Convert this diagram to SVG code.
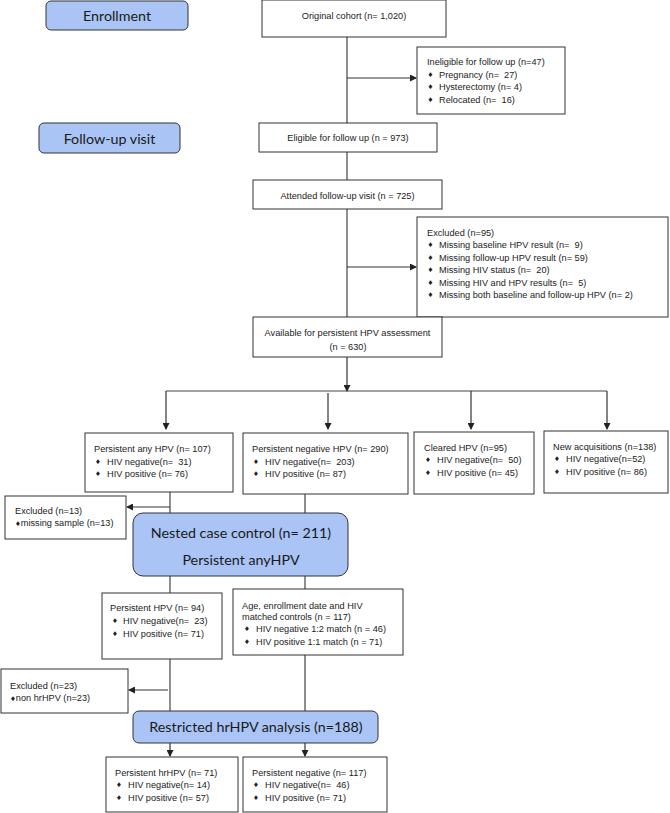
<svg xmlns="http://www.w3.org/2000/svg" width="670" height="813" viewBox="0 0 670 813" xml:space="preserve">
<style>
text{white-space:pre}
.box{fill:#fff;stroke:#333;stroke-width:1}
.hb{fill:#a9c4f5;stroke:#333;stroke-width:1}
.t{font-family:"Liberation Sans",Arial,sans-serif;font-size:9.2px;fill:#222}
.c{text-anchor:middle}
.b{font-family:"DejaVu Sans",sans-serif;font-size:6.5px;fill:#222}
.h{font-family:Lato,"Open Sans",sans-serif;font-size:14.3px;fill:#1a1a1a;text-anchor:middle}
.ln{fill:none;stroke:#444;stroke-width:1.2}
.ar{fill:none;stroke:#333;stroke-width:1.2;marker-end:url(#ah)}
</style>
<defs>
<marker id="ah" markerWidth="7" markerHeight="7" refX="6" refY="3.5" orient="auto" markerUnits="userSpaceOnUse">
<path d="M0,0 L7,3.5 L0,7 Z" fill="#222"/>
</marker>
</defs>
<g id="connectors">
<line class="ln" x1="347" y1="37" x2="347" y2="123"/>
<line class="ar" x1="347" y1="78" x2="416" y2="78"/>
<line class="ln" x1="347" y1="152" x2="347" y2="180"/>
<line class="ln" x1="347" y1="209" x2="347" y2="317"/>
<line class="ar" x1="347" y1="267" x2="416" y2="267"/>
<line class="ar" x1="347" y1="357" x2="347" y2="391"/>
<line class="ln" x1="166" y1="391" x2="607" y2="391"/>
<line class="ar" x1="166" y1="391" x2="166" y2="429"/>
<line class="ar" x1="328" y1="393" x2="328" y2="429"/>
<line class="ar" x1="471" y1="391" x2="471" y2="429"/>
<line class="ar" x1="607" y1="391" x2="607" y2="429"/>
<line class="ln" x1="170" y1="492" x2="170" y2="513"/>
<line class="ar" x1="170" y1="507" x2="127" y2="507"/>
<line class="ln" x1="305" y1="494" x2="305" y2="513"/>
<line class="ln" x1="170" y1="576" x2="170" y2="593"/>
<line class="ln" x1="305" y1="576" x2="305" y2="589"/>
<line class="ln" x1="170" y1="659" x2="170" y2="711"/>
<line class="ar" x1="168" y1="690" x2="129" y2="690"/>
<line class="ln" x1="305" y1="655" x2="305" y2="711"/>
<line class="ar" x1="170" y1="743" x2="170" y2="756"/>
<line class="ar" x1="305" y1="743" x2="305" y2="756"/>
</g>
<g id="enrollment">
<rect class="hb" x="46" y="1" width="142" height="29" rx="5"/>
<text class="h" x="117" y="20.5">Enrollment</text>
</g>
<g id="followup-visit">
<rect class="hb" x="39" y="123" width="141" height="30" rx="5"/>
<text class="h" x="109.5" y="143.5">Follow-up visit</text>
</g>
<g id="original-cohort">
<rect class="box" x="262" y="0" width="184" height="37"/>
<text class="t c" x="354" y="18.5">Original cohort (n= 1,020)</text>
</g>
<g id="ineligible">
<rect class="box" x="417" y="47" width="148" height="67"/>
<text class="t" x="427" y="65">Ineligible for follow up (n=47)</text>
<text class="b" x="427.5" y="76.5">♦</text><text class="t" x="439" y="77.5">Pregnancy (n=  27)</text>
<text class="b" x="427.5" y="89">♦</text><text class="t" x="439" y="90">Hysterectomy (n= 4)</text>
<text class="b" x="427.5" y="101.5">♦</text><text class="t" x="439" y="102.5">Relocated (n=  16)</text>
</g>
<g id="eligible">
<rect class="box" x="259" y="123" width="178" height="29"/>
<text class="t c" x="348" y="140.5">Eligible for follow up (n = 973)</text>
</g>
<g id="attended">
<rect class="box" x="253" y="180" width="189" height="29"/>
<text class="t c" x="347.5" y="198.5">Attended follow-up visit (n = 725)</text>
</g>
<g id="excluded-95">
<rect class="box" x="417" y="217" width="251" height="100"/>
<text class="t" x="427" y="235.5">Excluded (n=95)</text>
<text class="b" x="427.5" y="247">♦</text><text class="t" x="439" y="248">Missing baseline HPV result (n=  9)</text>
<text class="b" x="427.5" y="259.5">♦</text><text class="t" x="439" y="260.5">Missing follow-up HPV result (n= 59)</text>
<text class="b" x="427.5" y="272">♦</text><text class="t" x="439" y="273">Missing HIV status (n=  20)</text>
<text class="b" x="427.5" y="284.5">♦</text><text class="t" x="439" y="285.5">Missing HIV and HPV results (n=  5)</text>
<text class="b" x="427.5" y="297">♦</text><text class="t" x="439" y="298">Missing both baseline and follow-up HPV (n= 2)</text>
</g>
<g id="available">
<rect class="box" x="253" y="317" width="189" height="40"/>
<text class="t c" x="347.5" y="335.5">Available for persistent HPV assessment</text>
<text class="t c" x="348" y="349.5">(n = 630)</text>
</g>
<g id="persistent-any">
<rect class="box" x="85" y="433" width="148" height="59"/>
<text class="t" x="94" y="451.5">Persistent any HPV (n= 107)</text>
<text class="b" x="95" y="463.5">♦</text><text class="t" x="107" y="464.5">HIV negative(n=  31)</text>
<text class="b" x="95" y="475.5">♦</text><text class="t" x="107" y="476.5">HIV positive (n= 76)</text>
</g>
<g id="persistent-negative">
<rect class="box" x="243" y="433" width="165" height="61"/>
<text class="t" x="252" y="451.5">Persistent negative HPV (n= 290)</text>
<text class="b" x="253" y="463.5">♦</text><text class="t" x="265" y="464.5">HIV negative(n=  203)</text>
<text class="b" x="253" y="475.5">♦</text><text class="t" x="265" y="476.5">HIV positive (n= 87)</text>
</g>
<g id="cleared">
<rect class="box" x="414" y="432" width="120" height="62"/>
<text class="t" x="424" y="450.5">Cleared HPV (n=95)</text>
<text class="b" x="425" y="461.5">♦</text><text class="t" x="437" y="462.5">HIV negative(n=  50)</text>
<text class="b" x="425" y="474.5">♦</text><text class="t" x="437" y="475.5">HIV positive (n= 45)</text>
</g>
<g id="new-acquisitions">
<rect class="box" x="544" y="431" width="124" height="62"/>
<text class="t" x="553" y="449.5">New acquisitions (n=138)</text>
<text class="b" x="554" y="460.5">♦</text><text class="t" x="566" y="461.5">HIV negative(n=52)</text>
<text class="b" x="554" y="473.5">♦</text><text class="t" x="566" y="474.5">HIV positive (n= 86)</text>
</g>
<g id="excluded-13">
<rect class="box" x="5" y="496" width="121" height="43"/>
<text class="t" x="15" y="513.5">Excluded (n=13)</text>
<text class="t" x="15" y="525.5"><tspan class="b">♦</tspan>missing sample (n=13)</text>
</g>
<g id="nested">
<rect class="hb" x="133" y="513" width="215" height="63" rx="10"/>
<text class="h" x="241" y="537.5">Nested case control (n= 211)</text>
<text class="h" x="241" y="564.5">Persistent anyHPV</text>
</g>
<g id="persistent-hpv">
<rect class="box" x="102" y="593" width="120" height="66"/>
<text class="t" x="110" y="610.5">Persistent HPV (n= 94)</text>
<text class="b" x="112" y="622.5">♦</text><text class="t" x="123" y="623.5">HIV negative(n=  23)</text>
<text class="b" x="112" y="635.5">♦</text><text class="t" x="123" y="636.5">HIV positive (n= 71)</text>
</g>
<g id="matched-controls">
<rect class="box" x="233" y="589" width="170" height="66"/>
<text class="t" x="242" y="608.5">Age, enrollment date and HIV</text>
<text class="t" x="242" y="620">matched controls (n = 117)</text>
<text class="b" x="244" y="630.5">♦</text><text class="t" x="256" y="631.5">HIV negative 1:2 match (n = 46)</text>
<text class="b" x="244" y="643.5">♦</text><text class="t" x="256" y="644.5">HIV positive 1:1 match (n = 71)</text>
</g>
<g id="excluded-23">
<rect class="box" x="1" y="669" width="127" height="44"/>
<text class="t" x="10" y="688.5">Excluded (n=23)</text>
<text class="t" x="10" y="700.5"><tspan class="b">♦</tspan>non hrHPV (n=23)</text>
</g>
<g id="restricted">
<rect class="hb" x="133" y="711" width="245" height="32" rx="6"/>
<text class="h" x="256" y="732">Restricted hrHPV analysis (n=188)</text>
</g>
<g id="persistent-hrhpv">
<rect class="box" x="106" y="757" width="132" height="55"/>
<text class="t" x="115" y="775.5">Persistent hrHPV (n= 71)</text>
<text class="b" x="116" y="786.5">♦</text><text class="t" x="128" y="787.5">HIV negative(n= 14)</text>
<text class="b" x="116" y="799.5">♦</text><text class="t" x="128" y="800.5">HIV positive (n= 57)</text>
</g>
<g id="persistent-negative-117">
<rect class="box" x="243" y="757" width="144" height="55"/>
<text class="t" x="252" y="775.5">Persistent negative (n= 117)</text>
<text class="b" x="253" y="786.5">♦</text><text class="t" x="265" y="787.5">HIV negative(n=  46)</text>
<text class="b" x="253" y="799.5">♦</text><text class="t" x="265" y="800.5">HIV positive (n= 71)</text>
</g>
</svg>
